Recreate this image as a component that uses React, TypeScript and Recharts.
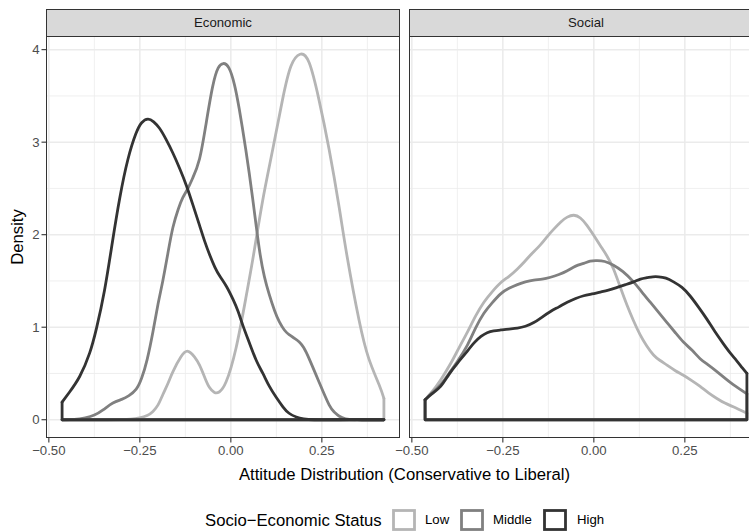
import { LineChart, Line, XAxis, YAxis, CartesianGrid } from "recharts";

type Pt = [number, number];

const statuses = ["Low", "Middle", "High"];
const statusColors = ["#B5B5B5", "#808080", "#333333"];

const xRange: Pt = [-0.4636, 0.4205];
const xMajor = [-0.5, -0.25, 0, 0.25];
const xMinor = [-0.375, -0.125, 0.125, 0.375];
const yMajor = [0, 1, 2, 3, 4];
const yMinor = [0.5, 1.5, 2.5, 3.5];

// densities, [x, density]
const economicLow: Pt[] = [
  [-0.4636, 0], [-0.4, 0], [-0.34, 0], [-0.3, 0.002], [-0.275, 0.007], [-0.251, 0.02],
  [-0.23, 0.045], [-0.214, 0.09], [-0.2, 0.16], [-0.187, 0.27], [-0.172, 0.4],
  [-0.159, 0.52], [-0.137, 0.68], [-0.118, 0.74], [-0.1, 0.68], [-0.086, 0.59],
  [-0.072, 0.46], [-0.059, 0.35], [-0.045, 0.295], [-0.032, 0.3], [-0.013, 0.41],
  [0.014, 0.77], [0.041, 1.31], [0.064, 1.82], [0.087, 2.36], [0.115, 2.92],
  [0.142, 3.46], [0.165, 3.82], [0.19, 3.95], [0.215, 3.86], [0.242, 3.46],
  [0.27, 2.92], [0.297, 2.31], [0.32, 1.75], [0.352, 1.08], [0.379, 0.66],
  [0.407, 0.38], [0.4205, 0.23],
];
const economicMiddle: Pt[] = [
  [-0.4636, 0], [-0.43, 0.003], [-0.4, 0.02], [-0.375, 0.05], [-0.35, 0.11],
  [-0.324, 0.18], [-0.3, 0.22], [-0.28, 0.26], [-0.26, 0.33], [-0.245, 0.45],
  [-0.23, 0.65], [-0.214, 0.95], [-0.2, 1.25], [-0.187, 1.5], [-0.172, 1.82],
  [-0.159, 2.08], [-0.145, 2.27], [-0.132, 2.4], [-0.118, 2.5], [-0.105, 2.61],
  [-0.086, 2.82], [-0.068, 3.2], [-0.05, 3.6], [-0.035, 3.8], [-0.021, 3.85],
  [-0.005, 3.8], [0.01, 3.62], [0.023, 3.36], [0.041, 2.92], [0.06, 2.39],
  [0.078, 1.85], [0.092, 1.55], [0.105, 1.36], [0.12, 1.18], [0.133, 1.06],
  [0.147, 0.97], [0.16, 0.92], [0.175, 0.88], [0.188, 0.84], [0.2, 0.78],
  [0.215, 0.66], [0.242, 0.41], [0.27, 0.16], [0.285, 0.08], [0.297, 0.04],
  [0.315, 0.01], [0.34, 0], [0.38, 0], [0.4205, 0],
];
const economicHigh: Pt[] = [
  [-0.4636, 0.19], [-0.443, 0.3], [-0.415, 0.47], [-0.388, 0.72], [-0.369, 0.99],
  [-0.347, 1.4], [-0.325, 1.93], [-0.305, 2.4], [-0.283, 2.81], [-0.261, 3.09],
  [-0.245, 3.21], [-0.228, 3.25], [-0.212, 3.22], [-0.196, 3.15], [-0.178, 3.03],
  [-0.159, 2.88], [-0.14, 2.71], [-0.122, 2.53], [-0.104, 2.32], [-0.086, 2.1],
  [-0.072, 1.93], [-0.058, 1.78], [-0.044, 1.65], [-0.03, 1.55], [-0.012, 1.44],
  [0.006, 1.3], [0.02, 1.17], [0.033, 1.02], [0.05, 0.84], [0.07, 0.64],
  [0.088, 0.5], [0.106, 0.36], [0.125, 0.24], [0.143, 0.14], [0.16, 0.07],
  [0.18, 0.03], [0.2, 0.01], [0.23, 0], [0.3, 0], [0.36, 0], [0.4205, 0],
];
const socialLow: Pt[] = [
  [-0.4636, 0.215], [-0.445, 0.3], [-0.421, 0.43], [-0.393, 0.61], [-0.37, 0.78],
  [-0.347, 0.95], [-0.325, 1.12], [-0.302, 1.27], [-0.28, 1.38], [-0.256, 1.48],
  [-0.233, 1.55], [-0.21, 1.63], [-0.19, 1.71], [-0.174, 1.78], [-0.147, 1.89],
  [-0.128, 1.98], [-0.11, 2.06], [-0.09, 2.14], [-0.073, 2.19], [-0.055, 2.21],
  [-0.037, 2.18], [-0.019, 2.1], [0.0, 1.99], [0.018, 1.88], [0.036, 1.77],
  [0.054, 1.63], [0.072, 1.44], [0.091, 1.24], [0.109, 1.07], [0.127, 0.92],
  [0.145, 0.8], [0.164, 0.7], [0.182, 0.64], [0.201, 0.59], [0.224, 0.53],
  [0.246, 0.48], [0.27, 0.42], [0.292, 0.36], [0.315, 0.29], [0.338, 0.23],
  [0.36, 0.18], [0.383, 0.14], [0.4205, 0.07],
];
const socialMiddle: Pt[] = [
  [-0.4636, 0.215], [-0.445, 0.29], [-0.421, 0.38], [-0.398, 0.5], [-0.375, 0.63],
  [-0.347, 0.81], [-0.325, 0.99], [-0.302, 1.15], [-0.28, 1.26], [-0.256, 1.36],
  [-0.233, 1.42], [-0.21, 1.46], [-0.188, 1.49], [-0.165, 1.51], [-0.142, 1.52],
  [-0.119, 1.54], [-0.096, 1.57], [-0.073, 1.61], [-0.05, 1.66], [-0.028, 1.69],
  [-0.01, 1.715], [0.009, 1.72], [0.03, 1.71], [0.054, 1.67], [0.08, 1.6],
  [0.109, 1.49], [0.132, 1.38], [0.155, 1.27], [0.178, 1.16], [0.201, 1.05],
  [0.224, 0.94], [0.246, 0.84], [0.27, 0.75], [0.292, 0.66], [0.315, 0.59],
  [0.338, 0.52], [0.36, 0.45], [0.383, 0.38], [0.4205, 0.28],
];
const socialHigh: Pt[] = [
  [-0.4636, 0.215], [-0.445, 0.28], [-0.421, 0.36], [-0.398, 0.49], [-0.375, 0.61],
  [-0.352, 0.72], [-0.329, 0.83], [-0.31, 0.9], [-0.293, 0.94], [-0.275, 0.96],
  [-0.256, 0.97], [-0.233, 0.98], [-0.21, 0.99], [-0.188, 1.01], [-0.165, 1.05],
  [-0.142, 1.11], [-0.119, 1.17], [-0.096, 1.22], [-0.073, 1.27], [-0.05, 1.31],
  [-0.028, 1.34], [-0.005, 1.36], [0.018, 1.38], [0.04, 1.4], [0.064, 1.43],
  [0.087, 1.46], [0.109, 1.49], [0.128, 1.52], [0.146, 1.535], [0.162, 1.545],
  [0.178, 1.545], [0.198, 1.53], [0.219, 1.49], [0.242, 1.43], [0.264, 1.34],
  [0.287, 1.22], [0.31, 1.09], [0.333, 0.95], [0.356, 0.82], [0.375, 0.72],
  [0.392, 0.64], [0.408, 0.56], [0.4205, 0.5],
];

const X_DOMAIN: Pt = [-0.5078, 0.4647];
const Y_DOMAIN: Pt = [-0.1975, 4.1475];
const PANEL_W = 354;
const PANEL_TOP = 36;
const PANEL_BOTTOM = 438;
const SMALL = 13.2;
const BIG = 16.7;
const FONT = "'Liberation Sans', Arial, sans-serif";

const fmtX = (v: number) => (v < 0 ? "\u2212" + Math.abs(v).toFixed(2) : v.toFixed(2));

const toRows = (pts: Pt[]) => pts.map(([x, y]) => ({ x, y }));

// closing part of a ggplot density outline: down to zero, along the baseline, back up
const outline = (pts: Pt[]) => [
  { x: xRange[1], y: pts[pts.length - 1][1] },
  { x: xRange[1], y: 0 },
  { x: xRange[0], y: 0 },
  { x: xRange[0], y: pts[0][1] },
];

interface PanelProps {
  title: string;
  left: number;
  showY: boolean;
  curves: Pt[][];
}

function Panel({ title, left, showY, curves }: PanelProps) {
  const marginLeft = showY ? 8 : 30;
  const yWidth = showY ? 38 : 0;
  const chartLeft = left - marginLeft - yWidth;
  return (
    <>
      <div
        style={{
          position: "absolute",
          left,
          top: 9,
          width: PANEL_W,
          height: 28,
          boxSizing: "border-box",
          background: "#D9D9D9",
          border: "1.2px solid #333333",
          color: "#1A1A1A",
          fontSize: SMALL,
          lineHeight: "25px",
          textAlign: "center",
        }}
      >
        {title}
      </div>
      <div style={{ position: "absolute", left: chartLeft, top: 0 }}>
        <LineChart
          width={PANEL_W + marginLeft + yWidth}
          height={470}
          margin={{ top: PANEL_TOP, right: 0, bottom: 10, left: marginLeft }}
        >
          <CartesianGrid
            stroke="#EBEBEB"
            strokeWidth={0.8}
            horizontalValues={yMinor}
            verticalValues={xMinor}
          />
          <CartesianGrid
            stroke="#EBEBEB"
            strokeWidth={1.5}
            horizontalValues={yMajor}
            verticalValues={xMajor}
          />
          <XAxis
            type="number"
            dataKey="x"
            domain={X_DOMAIN}
            allowDataOverflow
            ticks={xMajor}
            interval={0}
            tickFormatter={fmtX}
            tick={{ fontSize: SMALL, fill: "#4D4D4D", fontFamily: FONT }}
            tickLine={{ stroke: "#333333", strokeWidth: 1.1 }}
            tickSize={4.5}
            tickMargin={3}
            axisLine={false}
            height={22}
          />
          <YAxis
            type="number"
            dataKey="y"
            domain={Y_DOMAIN}
            allowDataOverflow
            ticks={yMajor}
            interval={0}
            hide={!showY}
            width={yWidth || 1}
            tick={{ fontSize: SMALL, fill: "#4D4D4D", fontFamily: FONT }}
            tickLine={{ stroke: "#333333", strokeWidth: 1.1 }}
            tickSize={4.5}
            tickMargin={2}
            axisLine={false}
          />
          {curves.map((pts, i) => [
            <Line
              key={`c${i}`}
              data={toRows(pts)}
              dataKey="y"
              type="natural"
              stroke={statusColors[i]}
              strokeWidth={2.8}
              strokeLinecap="round"
              strokeLinejoin="round"
              dot={false}
              activeDot={false}
              isAnimationActive={false}
            />,
            <Line
              key={`o${i}`}
              data={outline(pts)}
              dataKey="y"
              type="linear"
              stroke={statusColors[i]}
              strokeWidth={2.8}
              strokeLinecap="round"
              strokeLinejoin="round"
              dot={false}
              activeDot={false}
              isAnimationActive={false}
            />,
          ])}
        </LineChart>
      </div>
      <div
        style={{
          position: "absolute",
          left,
          top: PANEL_TOP,
          width: PANEL_W,
          height: PANEL_BOTTOM - PANEL_TOP,
          boxSizing: "border-box",
          border: "1.2px solid #333333",
          pointerEvents: "none",
        }}
      />
    </>
  );
}

function LegendKey({ color, label, left, labelLeft }: { color: string; label: string; left: number; labelLeft: number }) {
  return (
    <>
      <svg style={{ position: "absolute", left, top: 509 }} width={24} height={22}>
        <rect x={1.5} y={1.5} width={21} height={19} fill="#FFFFFF" stroke={color} strokeWidth={2.8} />
      </svg>
      <div style={{ position: "absolute", left: labelLeft, top: 512, fontSize: SMALL, color: "#000" }}>{label}</div>
    </>
  );
}

export default function App() {
  const keyLefts = [392, 460, 543];
  const labelLefts = [425, 493, 577];
  return (
    <div
      style={{
        position: "absolute",
        left: 0,
        top: 0,
        width: 749,
        height: 532,
        overflow: "hidden",
        background: "#FFFFFF",
        fontFamily: FONT,
      }}
    >
      <Panel title="Economic" left={46} showY curves={[economicLow, economicMiddle, economicHigh]} />
      <Panel title="Social" left={409} showY={false} curves={[socialLow, socialMiddle, socialHigh]} />
      <svg style={{ position: "absolute", left: 0, top: 0 }} width={40} height={470}>
        <text
          x={0}
          y={0}
          transform="translate(23 237) rotate(-90)"
          textAnchor="middle"
          fontSize={BIG}
          fontFamily={FONT}
          fill="#000"
        >
          Density
        </text>
      </svg>
      <div
        style={{
          position: "absolute",
          left: 0,
          width: 809,
          top: 465,
          textAlign: "center",
          fontSize: BIG,
          color: "#000",
        }}
      >
        Attitude Distribution (Conservative to Liberal)
      </div>
      <div style={{ position: "absolute", left: 205, top: 511, fontSize: BIG, color: "#000" }}>
        {"Socio\u2212Economic Status"}
      </div>
      {statuses.map((s, i) => (
        <LegendKey key={s} color={statusColors[i]} label={s} left={keyLefts[i]} labelLeft={labelLefts[i]} />
      ))}
    </div>
  );
}
